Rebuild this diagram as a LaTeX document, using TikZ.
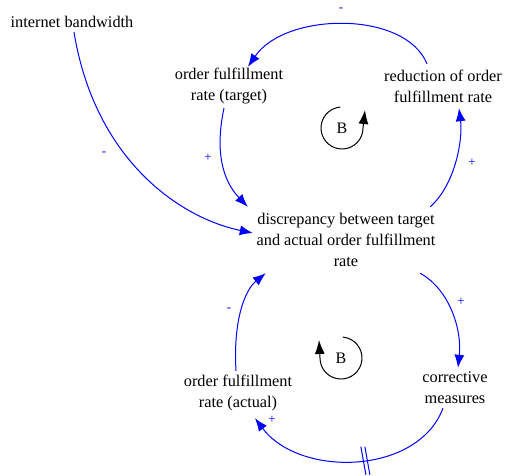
\documentclass[tikz,border=0pt]{standalone}
\usepackage{fontspec}
\setmainfont{Liberation Serif}
\usetikzlibrary{arrows.meta}
\definecolor{linkblue}{RGB}{0,0,255}
\tikzset{
  var/.style={inner sep=0pt, align=center, font=\fontsize{16.3}{21}\selectfont, text=black},
  link/.style={draw=linkblue, line width=1pt, -{Latex[length=13pt,width=10pt]}},
  pol/.style={text=linkblue, font=\fontsize{13}{13}\selectfont, inner sep=0pt},
  loopsym/.style={draw=black, line width=1pt, -{Latex[length=14pt,width=10pt]}},
  looplab/.style={font=\fontsize{16}{16}\selectfont, inner sep=0pt}
}
\begin{document}
\begin{tikzpicture}[x=1pt,y=-1pt]
\useasboundingbox (0,0) rectangle (507,476);
\node[var, minimum width=126pt, minimum height=20pt] (ib) at (72,22) {internet bandwidth};
\node[var, minimum width=104pt, minimum height=44pt] (target) at (229,86) {order fulfillment\\rate (target)};
\node[var, minimum width=122pt, minimum height=44pt] (red) at (443,86) {reduction of order\\fulfillment rate};
\node[var, minimum width=186pt, minimum height=66pt] (disc) at (346,240) {discrepancy between target\\and actual order fulfillment\\rate};
\node[var, minimum width=70pt, minimum height=40pt] (corr) at (455,388) {corrective\\measures};
\node[var, minimum width=104pt, minimum height=44pt] (act) at (238,393) {order fulfillment\\rate (actual)};

% connectors
\draw[link] ([xshift=2pt]ib.south) .. controls (95,160) and (180,218) .. ([yshift=7pt]disc.west);
\draw[link] ([xshift=-5pt]target.south) .. controls (215,150) and (222,180) .. ([xshift=-5pt]disc.north west);
\draw[link] ([xshift=-9pt]disc.north east) .. controls (455,185) and (463,140) .. ([xshift=16pt]red.south);
\draw[link] ([xshift=-16pt]red.north) .. controls (405,10) and (285,12) .. ([xshift=19pt,yshift=-3pt]target.north);
\draw[link] ([xshift=-19pt]disc.south east) .. controls (450,290) and (462,330) .. ([xshift=3pt]corr.north);
\draw[link] ([xshift=-12pt]corr.south) .. controls (418,475) and (300,478) .. coordinate[pos=0.45] (dl) ([xshift=17pt,yshift=-3pt]act.south);
\draw[link] ([xshift=-2pt]act.north) .. controls (233,320) and (245,290) .. ([xshift=13pt]disc.south west);

% delay mark
\draw[linkblue, line width=1pt] ([shift={(-7,-13)}]dl) -- ([shift={(-2,15)}]dl);
\draw[linkblue, line width=1pt] ([shift={(-3,-13)}]dl) -- ([shift={(2,15)}]dl);

% polarities
\node[pol] (p1) at (341,10) {-};
\node[pol] (p2) at (208,158) {+};
\node[pol] (p3) at (104,154) {-};
\node[pol] (p4) at (472,163) {+};
\node[pol] (p5) at (461,302) {+};
\node[pol] (p6) at (229,310) {-};
\node[pol] (p7) at (272,420) {+};

% loop symbols
\node[looplab] (B1) at (342,128) {B};
\draw[loopsym] ([shift={(265:21)}]B1.center) arc[start angle=265, end angle=0, radius=21] -- ++(2,-18);
\node[looplab] (B2) at (341,358) {B};
\draw[loopsym] ([shift={(275:21)}]B2.center) arc[start angle=275, end angle=540, radius=21] -- ++(-1,-18);
\end{tikzpicture}
\end{document}
